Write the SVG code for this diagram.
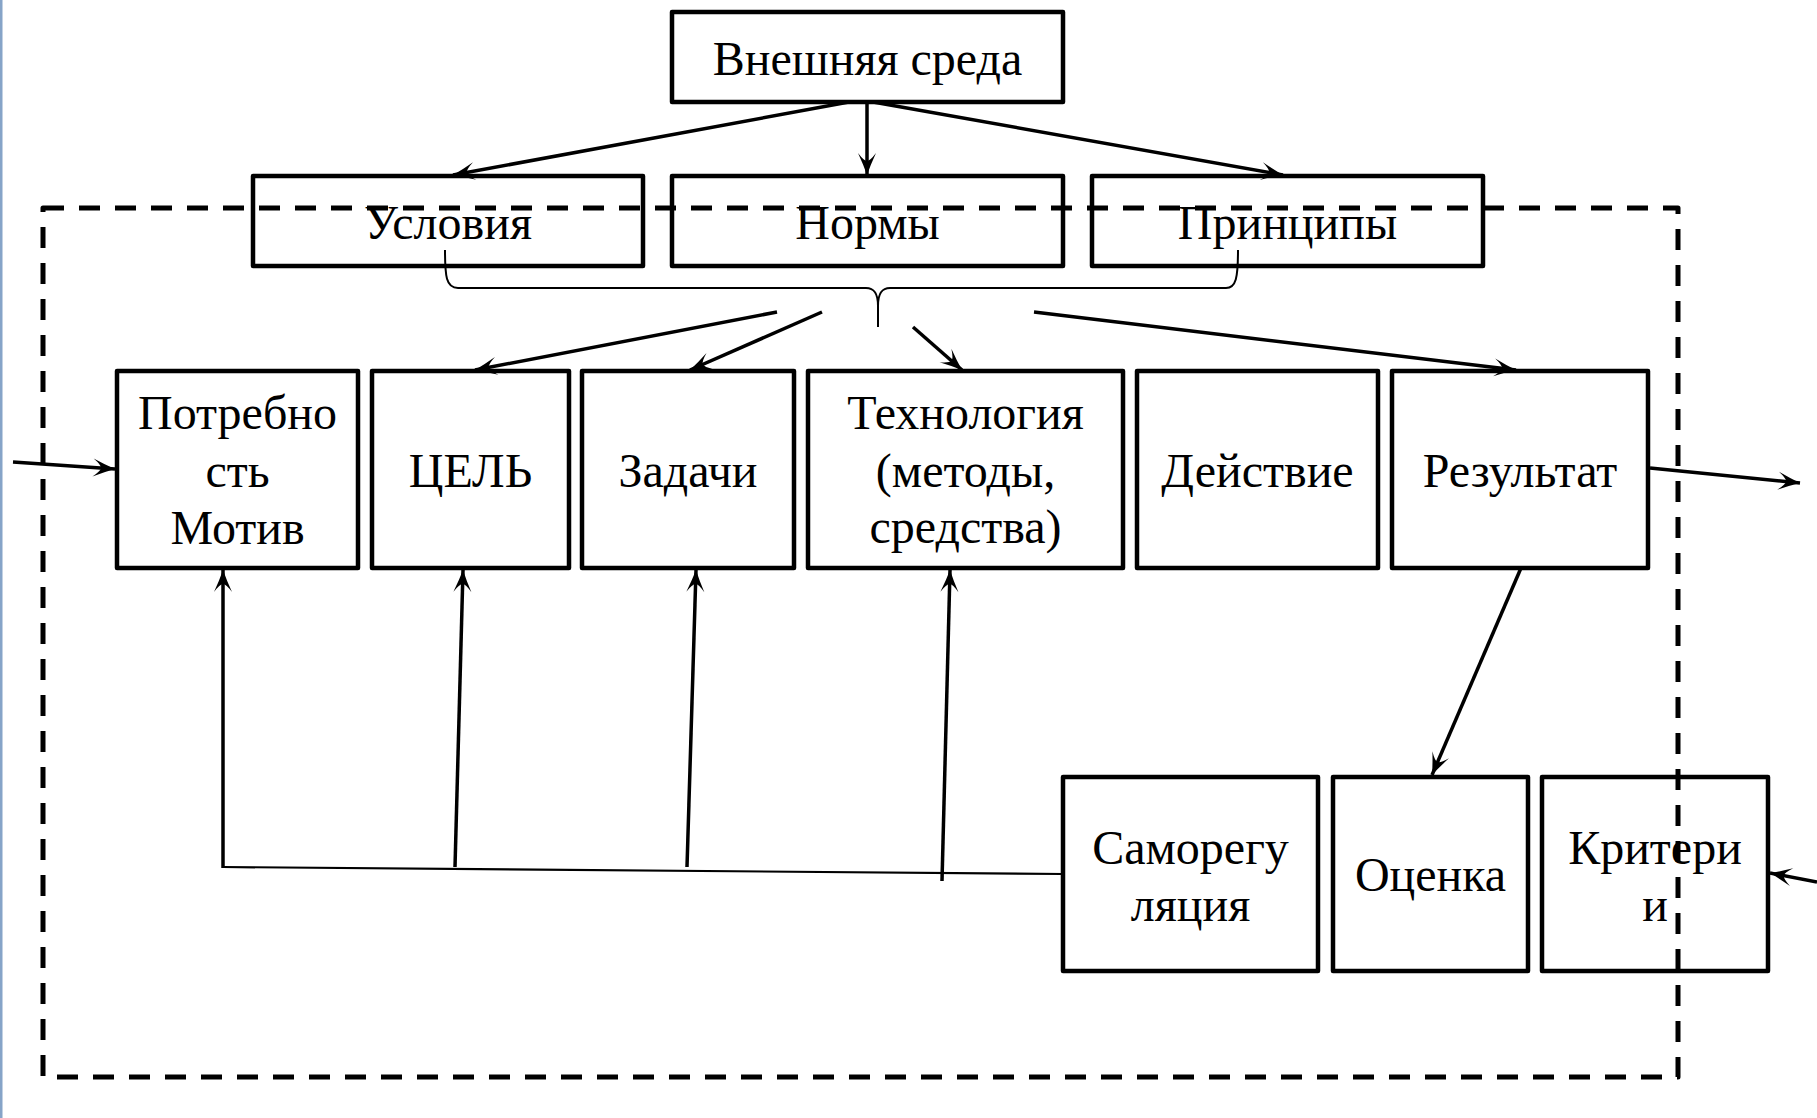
<svg xmlns="http://www.w3.org/2000/svg" width="1817" height="1118" viewBox="0 0 1817 1118">
  <defs>
    <style>
      .box { fill: none; stroke: #000; stroke-width: 4.5; stroke-linejoin: round; }
      .lbl { font-family: "Liberation Serif", "Times New Roman", serif; font-size: 48px; fill: #000; text-anchor: middle; }
      .wire { fill: none; stroke: #000; stroke-width: 3.5; stroke-linecap: butt; }
      .thin { fill: none; stroke: #000; stroke-width: 2.2; }
      .brace { fill: none; stroke: #000; stroke-width: 2; }
      .frame { fill: none; stroke: #000; stroke-width: 5; stroke-dasharray: 21 15; stroke-linejoin: round; }
    </style>
    <marker id="arr" markerUnits="userSpaceOnUse" markerWidth="26" markerHeight="22" viewBox="-24 -11 26 22" refX="0" refY="0" orient="auto">
      <path d="M0,0 Q-10,-3.5 -22,-9 Q-14,-3 -14,0 Q-14,3 -22,9 Q-10,3.5 0,0 Z" fill="#000"/>
    </marker>
  </defs>

  <rect x="0" y="0" width="1817" height="1118" fill="#fff"/>
  <!-- left page edge -->
  <rect x="0" y="0" width="2.5" height="1118" fill="#86a4c8"/>

  <!-- system boundary -->
  <rect class="frame" x="43" y="208" width="1635" height="869"/>

  <!-- brace gathering conditions, norms and principles -->
  <path class="brace" d="M445,250 C445,276 446,288 458,288 L866,288 C874,288 878,293 878,306 L878,327 M878,306 C878,293 882,288 890,288 L1226,288 C1236,288 1238,278 1238,250"/>

  <g id="n-env">
    <rect class="box" x="672" y="12" width="391" height="90"/>
    <text class="lbl" x="867.5" y="75">Внешняя среда</text>
  </g>
  <g id="n-conditions">
    <rect class="box" x="253" y="176" width="390" height="90"/>
    <text class="lbl" x="448" y="239">Условия</text>
  </g>
  <g id="n-norms">
    <rect class="box" x="672" y="176" width="391" height="90"/>
    <text class="lbl" x="867.5" y="239">Нормы</text>
  </g>
  <g id="n-principles">
    <rect class="box" x="1092" y="176" width="391" height="90"/>
    <text class="lbl" x="1287.5" y="239">Принципы</text>
  </g>

  <g id="n-need">
    <rect class="box" x="117" y="371" width="241" height="197"/>
    <text class="lbl" x="237.5" y="429">Потребно</text>
    <text class="lbl" x="237.5" y="487">сть</text>
    <text class="lbl" x="237.5" y="544">Мотив</text>
  </g>
  <g id="n-goal">
    <rect class="box" x="372" y="371" width="197" height="197"/>
    <text class="lbl" x="470.5" y="487">ЦЕЛЬ</text>
  </g>
  <g id="n-tasks">
    <rect class="box" x="582" y="371" width="212" height="197"/>
    <text class="lbl" x="688" y="487">Задачи</text>
  </g>
  <g id="n-tech">
    <rect class="box" x="808" y="371" width="315" height="197"/>
    <text class="lbl" x="965.5" y="429">Технология</text>
    <text class="lbl" x="965.5" y="487">(методы,</text>
    <text class="lbl" x="965.5" y="543">средства)</text>
  </g>
  <g id="n-action">
    <rect class="box" x="1137" y="371" width="241" height="197"/>
    <text class="lbl" x="1257.5" y="487">Действие</text>
  </g>
  <g id="n-result">
    <rect class="box" x="1392" y="371" width="256" height="197"/>
    <text class="lbl" x="1520" y="487">Результат</text>
  </g>

  <g id="n-selfreg">
    <rect class="box" x="1063" y="777" width="255" height="194"/>
    <text class="lbl" x="1190.5" y="864">Саморегу</text>
    <text class="lbl" x="1190.5" y="921">ляция</text>
  </g>
  <g id="n-assess">
    <rect class="box" x="1333" y="777" width="195" height="194"/>
    <text class="lbl" x="1430.5" y="891">Оценка</text>
  </g>
  <g id="n-criteria">
    <rect class="box" x="1542" y="777" width="226" height="194"/>
    <text class="lbl" x="1655" y="864">Критери</text>
    <text class="lbl" x="1655" y="921">и</text>
  </g>

  <g id="connectors">
    <!-- from external environment -->
    <line class="wire" x1="849" y1="102" x2="453" y2="175" marker-end="url(#arr)"/>
    <line class="wire" x1="867" y1="102" x2="867" y2="175" marker-end="url(#arr)"/>
    <line class="wire" x1="873" y1="102" x2="1283" y2="175" marker-end="url(#arr)"/>
    <!-- from the brace to the activity chain -->
    <line class="wire" x1="777" y1="312" x2="475" y2="370" marker-end="url(#arr)"/>
    <line class="wire" x1="822" y1="312" x2="690" y2="370" marker-end="url(#arr)"/>
    <line class="wire" x1="913" y1="327" x2="962" y2="370" marker-end="url(#arr)"/>
    <line class="wire" x1="1034" y1="312" x2="1516" y2="370" marker-end="url(#arr)"/>
    <!-- inputs and output -->
    <line class="wire" x1="13" y1="462" x2="115" y2="469" marker-end="url(#arr)"/>
    <line class="wire" x1="1650" y1="468" x2="1800" y2="483" marker-end="url(#arr)"/>
    <line class="wire" x1="1817" y1="882" x2="1770" y2="873" marker-end="url(#arr)"/>
    <!-- result to assessment -->
    <line class="wire" x1="1521" y1="568" x2="1432" y2="775" marker-end="url(#arr)"/>
    <!-- feedback from self-regulation -->
    <polyline class="thin" points="1063,874 223,867"/>
    <line class="wire" x1="223" y1="868" x2="223" y2="570" marker-end="url(#arr)"/>
    <line class="wire" x1="455" y1="867" x2="463" y2="570" marker-end="url(#arr)"/>
    <line class="wire" x1="687" y1="867" x2="696" y2="570" marker-end="url(#arr)"/>
    <line class="wire" x1="942" y1="881" x2="950" y2="570" marker-end="url(#arr)"/>
  </g>
</svg>
